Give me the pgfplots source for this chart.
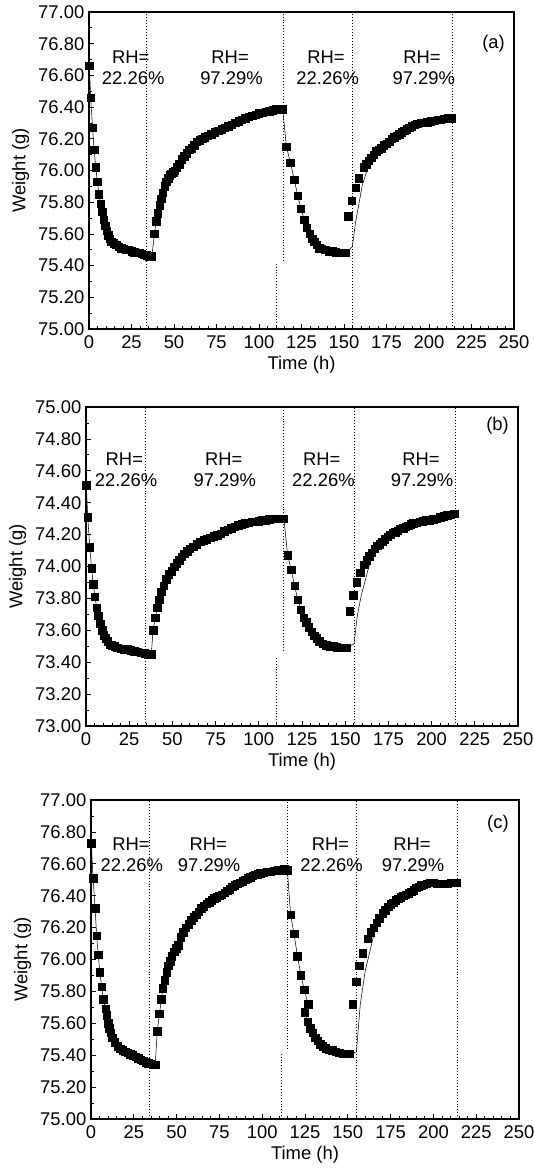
\documentclass[border=0pt]{standalone}
\usepackage{fontspec}
\setmainfont{Liberation Sans}
\usepackage{pgfplots}
\pgfplotsset{compat=1.18}
\pgfplotsset{
  wstyle/.style={
    scale only axis,
    xmin=0, xmax=250,
    xtick={0,25,50,75,100,125,150,175,200,225,250},
    minor x tick num=4,
    minor y tick num=1,
    tick align=inside,
    tick pos=left,
    axis line style={line width=0.8pt},
    major tick length=4pt,
    minor tick length=2.2pt,
    tick style={black, line width=0.6pt},
    font=\fontsize{13.8}{16}\selectfont,
    /pgf/number format/assume math mode=true,
    scaled y ticks=false,
    y tick label style={/pgf/number format/.cd, fixed, fixed zerofill, precision=2, /tikz/.cd},
    x tick label style={yshift=-1.5pt, /pgf/number format/.cd, fixed, precision=0, /tikz/.cd},
    xlabel={Time (h)},
    ylabel={Weight (g)},
    xlabel style={yshift=1.5pt},
    clip=false,
  },
  dots/.style={black, line width=0.6pt, dash pattern=on 0.6pt off 1.6pt},
  dat/.style={black, line width=0.4pt, mark=square*, mark size=2.8pt, mark options={solid}},
  datm/.style={black, only marks, mark=square*, mark size=2.8pt},
  fit/.style={black, line width=0.4pt, no marks},
}
\begin{document}
\begin{tikzpicture}
\useasboundingbox (0pt,0pt) rectangle (399.75pt,-876.75pt);
% ---------------- (a)
\begin{axis}[wstyle, at={(66.75pt,-246.75pt)}, anchor=south west,
  width=318.75pt, height=237.75pt, ymin=75, ymax=77,
  ytick={75,75.2,75.4,75.6,75.8,76,76.2,76.4,76.6,76.8,77}]
\addplot[dots] coordinates {(34.05,75) (34.05,77)};
\addplot[dots] coordinates {(110.2,75) (110.2,75.42)};
\addplot[dots] coordinates {(114.4,75.43) (114.4,77)};
\addplot[dots] coordinates {(154.9,75) (154.9,77)};
\addplot[dots] coordinates {(213.9,75) (213.9,77)};
\addplot[dat] coordinates {
(0.2,76.66)(1.0,76.46)(2.1,76.27)(3.0,76.13)(4.0,76.02)(4.9,75.93)(5.9,75.85)(6.9,75.79)(7.9,75.74)(8.8,75.69)(9.6,75.65)(10.5,75.62)(11.4,75.59)(12.3,75.57)(13.1,75.55)(14.5,75.54)(16,75.53)(17.5,75.52)(19,75.51)(20.5,75.505)(22,75.50)(23.5,75.50)(25,75.49)(26.5,75.485)(28,75.48)(29.5,75.48)(31,75.475)(32.5,75.47)(34,75.465)(35.5,75.46)(37,75.46)
(38.5,75.60)(39.5,75.68)(40.5,75.73)(41.5,75.78)(42.5,75.82)(43.5,75.86)(44.5,75.90)(45.5,75.93)(46.5,75.95)(47.5,75.97)(48.5,75.98)(49.5,75.99)(50.5,76.00)(51.5,76.02)(53,76.04)(54.5,76.07)(56,76.09)(57.5,76.11)(59,76.13)(60.5,76.14)(62,76.16)(63.5,76.18)(65,76.19)(66.5,76.20)(68,76.21)(70,76.22)(72,76.23)(74,76.24)(76,76.25)(78,76.26)(80,76.27)(82,76.28)(84,76.29)(86,76.30)(88,76.31)(90,76.32)(92,76.33)(94,76.34)(96,76.345)(98,76.35)(100,76.36)(102,76.365)(104,76.37)(106,76.375)(108,76.38)(110,76.385)(112,76.39)(114,76.385)
(116.1,76.15)(118.5,76.05)(120.8,75.94)(122.8,75.84)(124.7,75.76)(126.6,75.69)(128.2,75.64)(129.8,75.60)(131.2,75.57)(132.6,75.55)(134,75.53)(135.5,75.51)(137,75.505)(139,75.50)(141,75.49)(143,75.49)(145,75.485)(147,75.48)(149,75.48)(151,75.48)
};
\addplot[fit] coordinates {(151,75.48)(154.9,75.52)(156.9,75.68)(160.8,75.91)(164.7,76.04)(166,76.08)(170,76.13)(180,76.215)(190,76.28)(200,76.31)(213.5,76.33)};
\addplot[datm] coordinates {
(152.6,75.71)(154.5,75.81)(156.8,75.89)(158.7,75.95)(161.5,76.02)(163,76.04)(164.5,76.06)(166,76.08)(167.5,76.10)(169,76.12)(170.5,76.13)(172,76.14)(173.5,76.16)(175,76.17)(176.5,76.18)(178,76.20)(179.5,76.21)(181,76.22)(182.5,76.23)(184,76.24)(185.5,76.25)(187,76.26)(188.5,76.27)(190,76.28)(191.5,76.29)(193,76.295)(195,76.30)(197,76.30)(199,76.305)(201,76.31)(203,76.315)(205,76.32)(207,76.32)(209,76.325)(211,76.33)(213.5,76.33)
};
\node at (axis cs:24.6,76.716) {RH=};
\node at (axis cs:26,76.58) {22.26\%};
\node at (axis cs:83,76.716) {RH=};
\node at (axis cs:83.8,76.58) {97.29\%};
\node at (axis cs:139.4,76.716) {RH=};
\node at (axis cs:140.4,76.58) {22.26\%};
\node at (axis cs:195.9,76.716) {RH=};
\node at (axis cs:196.9,76.58) {97.29\%};
\node at (axis cs:238,76.80) {(a)};
\end{axis}
% ---------------- (b)
\begin{axis}[wstyle, at={(64.5pt,-544.5pt)}, anchor=south west,
  width=324pt, height=239.25pt, ymin=73, ymax=75,
  ytick={73,73.2,73.4,73.6,73.8,74,74.2,74.4,74.6,74.8,75}]
\addplot[dots] coordinates {(34.4,73) (34.4,75)};
\addplot[dots] coordinates {(110.2,73) (110.2,73.44)};
\addplot[dots] coordinates {(114.4,73.47) (114.4,75)};
\addplot[dots] coordinates {(155.1,73) (155.1,75)};
\addplot[dots] coordinates {(213.6,73) (213.6,75)};
\addplot[dat] coordinates {
(0.2,74.51)(1.0,74.31)(2.2,74.12)(3.2,73.99)(4.2,73.89)(5.2,73.81)(6.2,73.74)(7.2,73.69)(8.3,73.64)(9.3,73.60)(10.4,73.57)(11.4,73.55)(12.5,73.53)(13.7,73.51)(15,73.505)(16.5,73.50)(18,73.49)(20,73.485)(22,73.48)(24,73.48)(26,73.475)(28,73.47)(30,73.465)(32,73.46)(34,73.455)(36,73.45)(37.8,73.45)
(38.8,73.60)(40.1,73.68)(41.3,73.74)(42.4,73.79)(43.6,73.84)(45,73.88)(46.5,73.92)(48,73.95)(49.5,73.97)(51,74.00)(52.5,74.02)(54,74.04)(55.5,74.06)(57,74.08)(58.5,74.095)(60,74.11)(62,74.125)(64,74.14)(66,74.155)(68,74.165)(70,74.17)(72,74.18)(74,74.19)(76,74.195)(78,74.205)(80,74.22)(82,74.23)(84,74.24)(86,74.25)(88,74.26)(90,74.265)(92,74.27)(94,74.275)(96,74.28)(98,74.28)(100,74.285)(102,74.29)(104,74.29)(106,74.295)(108,74.30)(110,74.30)(112,74.30)(114.5,74.30)
(116.7,74.07)(118.7,73.98)(120.7,73.88)(122.6,73.79)(124.4,73.73)(126,73.68)(127.6,73.65)(129,73.62)(130.5,73.59)(132,73.565)(133.5,73.55)(135,73.53)(137,73.515)(139,73.505)(141,73.50)(143,73.50)(145,73.495)(147,73.49)(149,73.49)(151,73.49)
};
\addplot[fit] coordinates {(151,73.49)(155.1,73.515)(157,73.69)(159.3,73.82)(164.7,74.04)(166,74.09)(170,74.14)(180,74.22)(190,74.27)(200,74.29)(213.2,74.33)};
\addplot[datm] coordinates {
(152.5,73.72)(154.6,73.82)(156.6,73.90)(158.7,73.96)(161,74.01)(162.5,74.04)(164,74.065)(165.5,74.085)(167,74.11)(168.5,74.13)(170,74.14)(171.5,74.155)(173,74.17)(174.5,74.185)(176,74.20)(177.5,74.21)(179,74.215)(180.5,74.225)(182,74.235)(183.5,74.24)(185,74.25)(186.5,74.255)(188,74.265)(189.5,74.27)(191,74.275)(193,74.28)(195,74.285)(197,74.29)(199,74.29)(201,74.295)(203,74.30)(205,74.31)(207,74.315)(209,74.32)(211,74.325)(213.2,74.33)
};
\node at (axis cs:22.2,74.676) {RH=};
\node at (axis cs:23.2,74.54) {22.26\%};
\node at (axis cs:79.7,74.676) {RH=};
\node at (axis cs:80.3,74.54) {97.29\%};
\node at (axis cs:136.4,74.676) {RH=};
\node at (axis cs:137.4,74.54) {22.26\%};
\node at (axis cs:193.9,74.676) {RH=};
\node at (axis cs:194.5,74.54) {97.29\%};
\node at (axis cs:238.2,74.885) {(b)};
\end{axis}
% ---------------- (c)
\begin{axis}[wstyle, at={(68.25pt,-839.25pt)}, anchor=south west,
  width=321pt, height=239.25pt, ymin=75, ymax=77,
  ytick={75,75.2,75.4,75.6,75.8,76,76.2,76.4,76.6,76.8,77}]
\addplot[dots] coordinates {(34.3,75) (34.3,77)};
\addplot[dots] coordinates {(111,75) (111,75.42)};
\addplot[dots] coordinates {(115,75.44) (115,77)};
\addplot[dots] coordinates {(155,75) (155,77)};
\addplot[dots] coordinates {(213.9,75) (213.9,77)};
\addplot[dat] coordinates {
(0.2,76.73)(1.2,76.51)(2.4,76.32)(3.3,76.15)(4.2,76.03)(5.2,75.92)(6.2,75.83)(7.2,75.75)(8.5,75.69)(9.3,75.65)(10.1,75.60)(10.8,75.57)(11.5,75.54)(12.5,75.51)(13.8,75.48)(15.5,75.455)(17,75.44)(18.5,75.43)(20,75.42)(21.5,75.415)(23,75.405)(24.5,75.40)(26,75.39)(27.5,75.38)(29,75.37)(30.5,75.365)(32,75.355)(33.5,75.35)(35,75.345)(36.5,75.34)(37.5,75.34)
(38.7,75.55)(40,75.66)(41.1,75.75)(42,75.82)(43.1,75.87)(44.2,75.92)(45.2,75.96)(46.2,75.99)(47.3,76.02)(48.5,76.05)(49.8,76.07)(51,76.09)(52.5,76.14)(54,76.17)(55.5,76.20)(57,76.22)(58.5,76.245)(60,76.265)(61.5,76.28)(63,76.30)(64.5,76.32)(66,76.335)(67.5,76.35)(69,76.36)(70.5,76.37)(72,76.385)(73.5,76.39)(75,76.40)(76.5,76.405)(78,76.42)(79.5,76.43)(81,76.44)(82.5,76.455)(84,76.465)(85.5,76.475)(87,76.48)(88.5,76.49)(90,76.50)(91.5,76.51)(93,76.515)(94.5,76.525)(96,76.53)(97.5,76.535)(99,76.54)(101,76.545)(103,76.55)(105,76.55)(107,76.555)(109,76.56)(111,76.56)(113,76.565)(114.7,76.56)
(116.6,76.28)(118.6,76.16)(120.6,76.02)(122.6,75.90)(124.6,75.81)(126.8,75.72)(124.8,75.67)(126.6,75.61)(128.2,75.57)(129.6,75.54)(131,75.51)(132.5,75.49)(134,75.47)(135.5,75.455)(137,75.445)(139,75.435)(141,75.43)(143,75.42)(145,75.415)(147,75.41)(149,75.41)(150.8,75.41)
};
\addplot[fit] coordinates {(150.8,75.41)(155,75.42)(157.3,75.72)(160.2,75.93)(165.1,76.15)(166.8,76.23)(170.5,76.29)(180,76.385)(190,76.45)(198,76.48)(213.5,76.48)};
\addplot[datm] coordinates {
(152.9,75.72)(155,75.86)(156.8,75.96)(158.8,76.04)(161.8,76.13)(163.5,76.17)(165.3,76.20)(166.8,76.23)(168.5,76.26)(170.5,76.29)(172,76.31)(173.5,76.33)(175,76.345)(176.5,76.355)(178,76.37)(179.5,76.38)(181,76.39)(182.5,76.40)(184,76.405)(185.5,76.415)(187,76.425)(188.5,76.435)(190,76.45)(191.5,76.455)(193,76.465)(194.5,76.47)(196,76.475)(198,76.48)(200,76.48)(202,76.475)(204,76.475)(206,76.475)(208,76.475)(210,76.48)(212,76.48)(213.5,76.48)
};
\node at (axis cs:23.4,76.726) {RH=};
\node at (axis cs:23.8,76.59) {22.26\%};
\node at (axis cs:68.5,76.726) {RH=};
\node at (axis cs:69,76.59) {97.29\%};
\node at (axis cs:139.9,76.726) {RH=};
\node at (axis cs:140.5,76.59) {22.26\%};
\node at (axis cs:187.5,76.726) {RH=};
\node at (axis cs:188.1,76.59) {97.29\%};
\node at (axis cs:237.7,76.85) {(c)};
\end{axis}
\end{tikzpicture}
\end{document}
